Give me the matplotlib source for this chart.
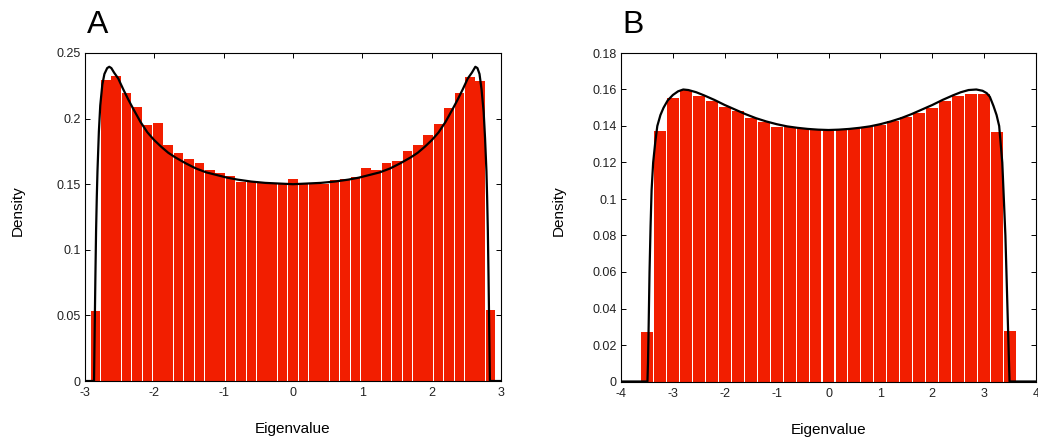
import numpy as np
import matplotlib
matplotlib.use("Agg")
import matplotlib.pyplot as plt

plt.rcParams['font.family'] = ['Liberation Sans', 'DejaVu Sans']
plt.rcParams['axes.unicode_minus'] = False

# ---------------- Panel A data ----------------
binsA_lo, binsA_hi, nbinsA = -2.925, 2.925, 39
densA = [0.0534, 0.2297, 0.2325, 0.2195, 0.209, 0.195, 0.197, 0.180, 0.174, 0.169,
         0.166, 0.1606, 0.1585, 0.1565, 0.152, 0.152, 0.151, 0.1504, 0.150, 0.154,
         0.150, 0.1504, 0.150, 0.153, 0.154, 0.1555, 0.1626, 0.161, 0.166, 0.168,
         0.175, 0.180, 0.1875, 0.196, 0.208, 0.2195, 0.2317, 0.2287, 0.0544]

curveA_x = [-3.0, -2.87, -2.86, -2.85, -2.84, -2.83, -2.82, -2.80, -2.78, -2.75,
            -2.72, -2.68, -2.65, -2.62, -2.58, -2.52, -2.45, -2.38, -2.30, -2.20,
            -2.10, -2.00, -1.90, -1.80, -1.70, -1.55, -1.40, -1.25, -1.10, -0.95,
            -0.80, -0.60, -0.40, -0.20, 0.0,
            0.20, 0.40, 0.60, 0.80, 0.95, 1.10, 1.25, 1.40, 1.55, 1.70,
            1.80, 1.90, 2.00, 2.10, 2.20, 2.30, 2.38, 2.45, 2.52, 2.58,
            2.63, 2.66, 2.69, 2.72, 2.75, 2.77, 2.79, 2.80, 2.81, 2.82, 2.83, 2.84, 3.0]
curveA_y = [0.0, 0.0, 0.04, 0.08, 0.115, 0.14, 0.16, 0.19, 0.21, 0.226,
            0.234, 0.2385, 0.2395, 0.2385, 0.235, 0.2305, 0.2225, 0.215, 0.207, 0.1975,
            0.1895, 0.1835, 0.1785, 0.174, 0.1705, 0.166, 0.162, 0.159, 0.157, 0.155,
            0.1535, 0.152, 0.151, 0.1505, 0.150,
            0.1505, 0.151, 0.152, 0.1535, 0.155, 0.157, 0.159, 0.162, 0.166, 0.1705,
            0.174, 0.1785, 0.1835, 0.1895, 0.1975, 0.207, 0.215, 0.2225, 0.2305, 0.235,
            0.2395, 0.2385, 0.234, 0.222, 0.205, 0.185, 0.160, 0.140, 0.115, 0.08, 0.04, 0.0, 0.0]

xticksA = [-3, -2, -1, 0, 1, 2, 3]
yticksA = [0, 0.05, 0.1, 0.15, 0.2, 0.25]
yticklabelsA = ['0', '0.05', '0.1', '0.15', '0.2', '0.25']

# ---------------- Panel B data ----------------
binsB_lo, binsB_hi, nbinsB = -3.625, 3.625, 29
densB = [0.0272, 0.137, 0.1555, 0.1599, 0.1564, 0.1537, 0.1504, 0.148, 0.1446, 0.1424,
         0.1396, 0.1394, 0.1387, 0.1383, 0.1372, 0.138, 0.1383, 0.1394, 0.1407, 0.1425,
         0.145, 0.147, 0.150, 0.1539, 0.1566, 0.1577, 0.1573, 0.1365, 0.0274]

curveB_x = [-4.0, -3.49, -3.48, -3.47, -3.45, -3.43, -3.41, -3.38, -3.34, -3.30,
            -3.24, -3.18, -3.10, -3.00, -2.90, -2.80, -2.70, -2.55, -2.40, -2.20,
            -2.00, -1.80, -1.60, -1.40, -1.20, -1.00, -0.80, -0.60, -0.40, -0.20, 0.0,
            0.20, 0.40, 0.60, 0.80, 1.00, 1.20, 1.40, 1.60, 1.80, 2.00,
            2.20, 2.40, 2.55, 2.70, 2.85, 2.97, 3.05, 3.11, 3.18, 3.24,
            3.29, 3.35, 3.38, 3.41, 3.43, 3.45, 3.47, 3.49, 4.0]
curveB_y = [0.0, 0.0, 0.01, 0.025, 0.06, 0.085, 0.105, 0.12, 0.131, 0.140,
            0.146, 0.150, 0.154, 0.157, 0.159, 0.160, 0.1597, 0.1585, 0.1568, 0.1543,
            0.1515, 0.149, 0.1465, 0.1443, 0.1425, 0.141, 0.1398, 0.139, 0.1384, 0.138, 0.1378,
            0.138, 0.1384, 0.139, 0.1398, 0.141, 0.1425, 0.1443, 0.1465, 0.149, 0.1515,
            0.1543, 0.1568, 0.1585, 0.1597, 0.160, 0.1593, 0.158, 0.156, 0.151, 0.146,
            0.140, 0.120, 0.100, 0.080, 0.06, 0.04, 0.02, 0.0, 0.0]

xticksB = [-4, -3, -2, -1, 0, 1, 2, 3, 4]
yticksB = [0, 0.02, 0.04, 0.06, 0.08, 0.1, 0.12, 0.14, 0.16, 0.18]
yticklabelsB = ['0', '0.02', '0.04', '0.06', '0.08', '0.1', '0.12', '0.14', '0.16', '0.18']

BAR_COLOR = '#F21E00'
W, H = 1038, 440
fig = plt.figure(figsize=(W / 100, H / 100), dpi=100)


def panel(rect, lo, hi, nb, dens, cx, cy, xlim, ylim, xt, yt, ytl, gap, ylab_x):
    ax = fig.add_axes(rect)
    edges = np.linspace(lo, hi, nb + 1)
    centers = (edges[:-1] + edges[1:]) / 2
    bw = edges[1] - edges[0]
    ax.bar(centers, dens, width=bw - gap, color=BAR_COLOR, linewidth=0, zorder=2)
    ax.plot(cx, cy, color='black', lw=1.6, zorder=3, solid_joinstyle='round')
    ax.set_xlim(*xlim)
    ax.set_ylim(*ylim)
    ax.set_xticks(xt)
    ax.set_xticklabels([str(v) for v in xt])
    ax.set_yticks(yt)
    ax.set_yticklabels(ytl)
    ax.tick_params(direction='in', top=True, right=True, length=3.5, width=0.7,
                   labelsize=9, labelcolor='#222222')
    ax.tick_params(axis='x', pad=4.5)
    ax.tick_params(axis='y', pad=3)
    for s in ax.spines.values():
        s.set_linewidth(0.8)
    ax.set_xlabel('Eigenvalue', fontsize=11)
    ax.set_ylabel('Density', fontsize=11)
    ax.xaxis.set_label_coords(0.5, -0.125)
    ax.yaxis.set_label_coords(ylab_x, 0.52)
    return ax


axA = panel([85 / W, 59 / H, 416 / W, 328 / H], binsA_lo, binsA_hi, nbinsA, densA,
            curveA_x, curveA_y, (-3, 3), (0, 0.25), xticksA, yticksA, yticklabelsA,
            0.013, -0.144)
axB = panel([621 / W, 58.5 / H, 415 / W, 328.5 / H], binsB_lo, binsB_hi, nbinsB, densB,
            curveB_x, curveB_y, (-4, 4), (0, 0.18), xticksB, yticksB, yticklabelsB,
            0.02, -0.132)

fig.text(87 / W, (H - 33) / H, 'A', fontsize=23, ha='left', va='baseline')
fig.text(622 / W, (H - 33) / H, 'B', fontsize=23, ha='left', va='baseline')

fig.savefig('out.png', dpi=100)
